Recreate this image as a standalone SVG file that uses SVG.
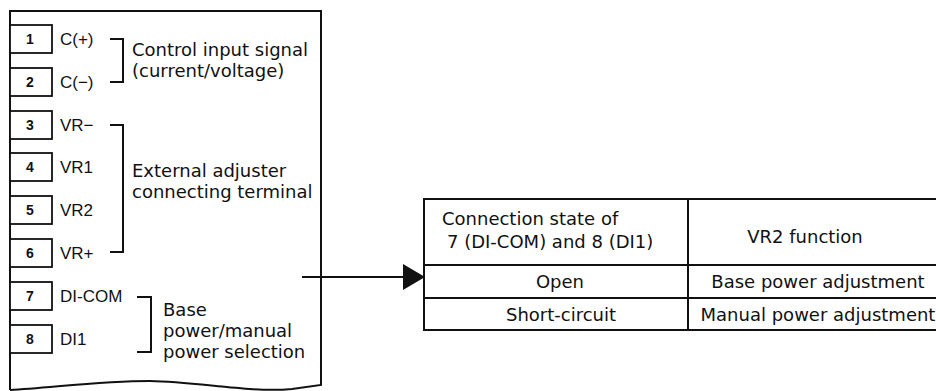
<svg xmlns="http://www.w3.org/2000/svg" width="936" height="391" viewBox="0 0 936 391">
<defs>
<style>
.ln{fill:none;stroke:#111;stroke-width:2}
.box{fill:#fff;stroke:#111;stroke-width:1.8}
.num{font-family:"Liberation Sans",Arial,sans-serif;font-size:14px;font-weight:bold;fill:#111;text-anchor:middle}
.lab{font-family:"Liberation Sans",Arial,sans-serif;font-size:17px;fill:#111}
.desc{font-family:"DejaVu Sans",Verdana,sans-serif;font-size:18px;fill:#111}
.tx{font-family:"DejaVu Sans",Verdana,sans-serif;font-size:18px;fill:#111}
.mid{text-anchor:middle}
</style>
<marker id="ah" viewBox="0 0 22 26" refX="22" refY="13" markerWidth="22" markerHeight="26" markerUnits="userSpaceOnUse" orient="auto">
<path d="M0,0 L22,13 L0,26 Z" fill="#111"/>
</marker>
</defs>
<rect width="936" height="391" fill="#fff"/>
<g id="device">
<path class="ln" d="M10,390 L10,11 L321,11 L321,385 L292,389 C250,393 200,382 150,381 C100,381 50,388 10,390"/>
</g>
<g id="t1"><rect class="box" x="10" y="25" width="42" height="28"/><text class="num" x="30" y="44">1</text><text class="lab" x="60" y="45">C(+)</text></g>
<g id="t2"><rect class="box" x="10" y="68" width="42" height="28"/><text class="num" x="30" y="87">2</text><text class="lab" x="60" y="88">C(−)</text></g>
<g id="t3"><rect class="box" x="10" y="111" width="42" height="28"/><text class="num" x="30" y="130">3</text><text class="lab" x="60" y="131">VR−</text></g>
<g id="t4"><rect class="box" x="10" y="153" width="42" height="28"/><text class="num" x="30" y="172">4</text><text class="lab" x="60" y="173">VR1</text></g>
<g id="t5"><rect class="box" x="10" y="196" width="42" height="28"/><text class="num" x="30" y="215">5</text><text class="lab" x="60" y="216">VR2</text></g>
<g id="t6"><rect class="box" x="10" y="239" width="42" height="28"/><text class="num" x="30" y="258">6</text><text class="lab" x="60" y="259">VR+</text></g>
<g id="t7"><rect class="box" x="10" y="282" width="42" height="28"/><text class="num" x="30" y="301">7</text><text class="lab" x="60" y="302">DI-COM</text></g>
<g id="t8"><rect class="box" x="10" y="325" width="42" height="28"/><text class="num" x="30" y="344">8</text><text class="lab" x="60" y="345">DI1</text></g>
<g id="group1">
<path class="ln" d="M110,39 H123 V82 H110"/>
<text class="desc" x="132" y="56">Control input signal</text>
<text class="desc" x="132" y="77">(current/voltage)</text>
</g>
<g id="group2">
<path class="ln" d="M110,125 H123 V252 H110"/>
<text class="desc" x="132" y="177">External adjuster</text>
<text class="desc" x="132" y="198">connecting terminal</text>
</g>
<g id="group3">
<path class="ln" d="M137,297 H151 V352 H137"/>
<text class="desc" x="163" y="316">Base</text>
<text class="desc" x="163" y="337">power/manual</text>
<text class="desc" x="163" y="358">power selection</text>
</g>
<g id="connectors">
<line class="ln" x1="302" y1="277" x2="425" y2="277" marker-end="url(#ah)"/>
</g>
<g id="table">
<path class="ln" d="M940,199 H424 V330 H940 M424,265 H940 M424,298 H940 M688,199 V330"/>
<text class="tx" x="442" y="225">Connection state of</text>
<text class="tx" x="447" y="248">7 (DI-COM) and 8 (DI1)</text>
<text class="tx mid" x="805" y="243">VR2 function</text>
<text class="tx mid" x="560" y="288">Open</text>
<text class="tx mid" x="818" y="288">Base power adjustment</text>
<text class="tx mid" x="561" y="321">Short-circuit</text>
<text class="tx mid" x="818" y="321">Manual power adjustment</text>
</g>
</svg>
